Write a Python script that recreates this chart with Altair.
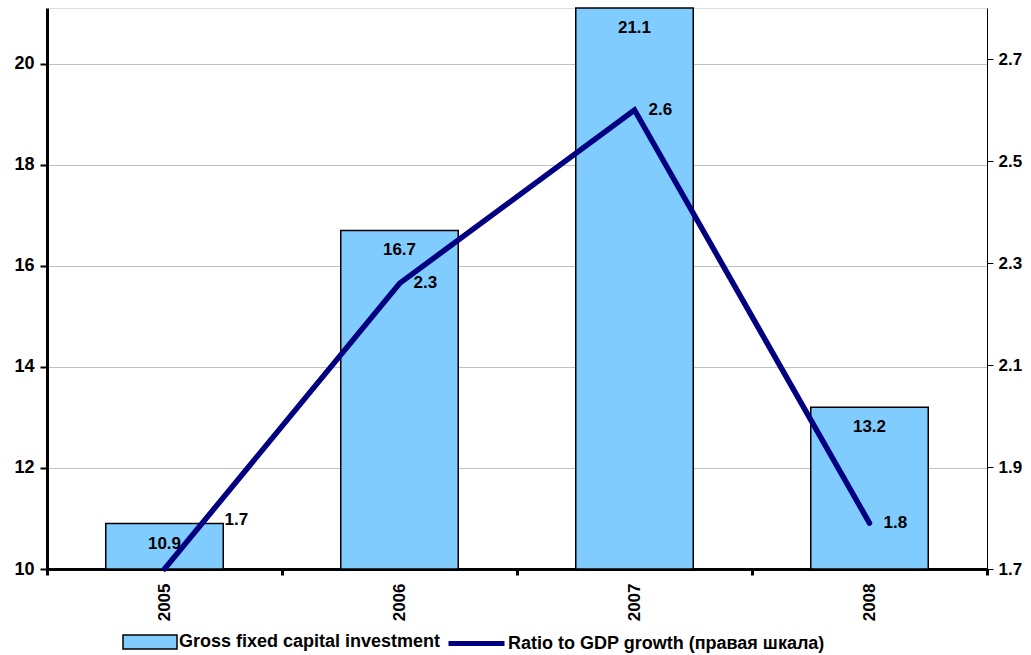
import altair as alt
import pandas as pd

years = ["2005", "2006", "2007", "2008"]
investment = [10.9, 16.7, 21.1, 13.2]
ratio = [1.70, 2.26, 2.60, 1.79]
bar_name = "Gross fixed capital investment"
line_name = "Ratio to GDP growth (правая шкала)"
left_ticks = [10, 12, 14, 16, 18, 20]
right_ticks = [1.7, 1.9, 2.1, 2.3, 2.5, 2.7]

df = pd.DataFrame({"year": years, "inv": investment, "ratio": ratio})

FONT = "Liberation Sans"
FS = 17
LFS = 18

x_enc = alt.X(
    "year:N", title=None, sort=years,
    scale=alt.Scale(paddingInner=0, paddingOuter=0),
    axis=alt.Axis(labelAngle=-90, labelFontSize=FS, labelFontWeight="bold",
                  labelColor="black", domainColor="black", domainWidth=3,
                  tickColor="black", tickWidth=3, tickSize=6, tickBand="extent",
                  labelPadding=8, grid=False),
)

y_left = alt.Y(
    "inv:Q", title=None,
    scale=alt.Scale(domain=[10, 21.1], nice=False, zero=False),
    axis=alt.Axis(values=left_ticks, grid=True, gridColor="#c0c0c0", gridWidth=1,
                  domainWidth=3, domainColor="black", tickSize=7, tickWidth=2,
                  tickColor="black", labelFontSize=18, labelFontWeight="bold",
                  labelPadding=6, labelColor="black", format="d"),
)

y_right = alt.Y(
    "ratio:Q", title=None,
    scale=alt.Scale(domain=[1.7, 2.8], nice=False, zero=False),
    axis=alt.Axis(orient="right", values=right_ticks, grid=False,
                  domainWidth=1, domainColor="black", tickSize=6, tickWidth=1,
                  tickColor="black", labelFontSize=FS, labelFontWeight="bold",
                  labelPadding=5, labelColor="black", format=".1f"),
)

base = alt.Chart(df)

bars = base.transform_calculate(s=f"'{bar_name}'").mark_bar(
    stroke="black", strokeWidth=1.5, width=alt.RelativeBandSize(0.5)
).encode(
    x=x_enc, y=y_left, y2=alt.datum(10),
    fill=alt.Fill("s:N", scale=alt.Scale(domain=[bar_name], range=["#80CCFF"]),
                  legend=alt.Legend(orient="none", legendX=75, legendY=606, title=None,
                                    padding=0, labelFontSize=LFS, labelFontWeight="bold",
                                    labelColor="black", labelOffset=1, labelLimit=0,
                                    symbolType="M-1,-0.26L1,-0.26L1,0.26L-1,0.26Z",
                                    symbolSize=2916, symbolStrokeColor="black",
                                    symbolStrokeWidth=1.5, symbolOpacity=1)),
)

bar_text = base.mark_text(
    baseline="middle", align="center", dy=20, fontSize=FS, fontWeight="bold", color="black"
).encode(x=alt.X("year:N", sort=years), y=alt.Y("inv:Q"), text=alt.Text("inv:Q", format=".1f"))

left = alt.layer(bars, bar_text)

line = base.transform_calculate(s=f"'{line_name}'").mark_line(
    strokeWidth=5.5, strokeCap="round"
).encode(
    x=alt.X("year:N", sort=years), y=y_right,
    stroke=alt.Stroke("s:N", scale=alt.Scale(domain=[line_name], range=["#000080"]),
                      legend=alt.Legend(orient="none", legendX=399, legendY=605, title=None,
                                        padding=0, labelFontSize=LFS, labelFontWeight="bold",
                                        labelColor="black", labelOffset=1, labelLimit=0,
                                        symbolType="M-1,0L1,0", symbolSize=3136,
                                        symbolStrokeWidth=5)),
)

line_text = base.transform_filter(alt.datum.year != "2005").mark_text(
    baseline="middle", align="left", dx=14, fontSize=FS, fontWeight="bold", color="black"
).encode(x=alt.X("year:N", sort=years), y=alt.Y("ratio:Q"), text=alt.Text("ratio:Q", format=".1f"))

line_text_first = base.transform_filter(alt.datum.year == "2005").mark_text(
    baseline="middle", align="left", dx=60, dy=-49, fontSize=FS, fontWeight="bold", color="black"
).encode(x=alt.X("year:N", sort=years), y=alt.Y("ratio:Q"), text=alt.Text("ratio:Q", format=".1f"))

right = alt.layer(line, line_text, line_text_first)

chart = alt.layer(left, right).resolve_scale(y="independent").properties(
    width=940, height=561,
    autosize=alt.AutoSizeParams(type="none"),
    padding={"left": 47, "top": 8, "right": 44, "bottom": 86},
    background="white",
).configure_view(stroke=None).configure(font=FONT)

chart.save("out.html", embed_options={"renderer": "svg", "actions": False})
